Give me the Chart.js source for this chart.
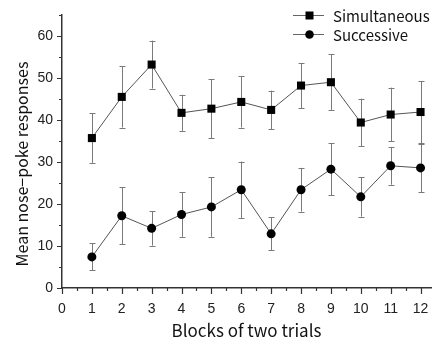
<!DOCTYPE html>
<html>
<head>
<meta charset="utf-8">
<script src="https://cdn.jsdelivr.net/npm/chart.js@4.4.0/dist/chart.umd.min.js"></script>
<style>
html,body{margin:0;padding:0;background:#fff;}
#wrap{width:432px;height:341px;position:relative;}
</style>
</head>
<body>
<div id="wrap"><canvas id="c" width="432" height="341"></canvas></div>
<script>
// ---- data ----
const blocks = [1, 2, 3, 4, 5, 6, 7, 8, 9, 10, 11, 12];
const simultaneous = [35.7, 45.5, 53.2, 41.7, 42.7, 44.3, 42.4, 48.2, 49.0, 39.4, 41.3, 41.9];
const simultaneousErr = [5.9, 7.3, 5.7, 4.3, 7.0, 6.1, 4.6, 5.4, 6.6, 5.7, 6.4, 7.4];
const successive = [7.4, 17.2, 14.2, 17.5, 19.3, 23.4, 12.9, 23.4, 28.3, 21.7, 29.1, 28.6];
const successiveErr = [3.2, 6.8, 4.1, 5.3, 7.1, 6.7, 3.9, 5.2, 6.2, 4.7, 4.5, 5.8];
const seriesNames = ['Simultaneous', 'Successive'];
const xTickValues = [0, 1, 2, 3, 4, 5, 6, 7, 8, 9, 10, 11, 12];
const yTickValues = [0, 10, 20, 30, 40, 50, 60];
const xTitle = 'Blocks of two trials';
const yTitle = 'Mean nose\u2212poke responses';

const TITLE_FONT = '"Noto Sans CJK JP", "Noto Sans", sans-serif';
const TICK_FONT = '"Liberation Sans", Arial, sans-serif';

function pts(xs, ys) { return xs.map((x, i) => ({x: x, y: ys[i]})); }

const decor = {
  id: 'decor',
  beforeDatasetsDraw(chart) {
    const ctx = chart.ctx, xs = chart.scales.x, ys = chart.scales.y;
    ctx.save();
    ctx.strokeStyle = '#7a7a7a';
    ctx.lineWidth = 1;
    [[simultaneous, simultaneousErr], [successive, successiveErr]].forEach(([vals, errs]) => {
      blocks.forEach((b, i) => {
        const px = Math.round(xs.getPixelForValue(b)) + 0.5;
        const top = ys.getPixelForValue(vals[i] + errs[i]);
        const bot = ys.getPixelForValue(vals[i] - errs[i]);
        ctx.beginPath();
        ctx.moveTo(px, top); ctx.lineTo(px, bot);
        ctx.moveTo(px - 3, Math.round(top) + 0.5); ctx.lineTo(px + 3, Math.round(top) + 0.5);
        ctx.moveTo(px - 3, Math.round(bot) + 0.5); ctx.lineTo(px + 3, Math.round(bot) + 0.5);
        ctx.stroke();
      });
    });
    ctx.restore();
  },
  afterDraw(chart) {
    const ctx = chart.ctx, xs = chart.scales.x, ys = chart.scales.y;
    const ca = chart.chartArea;
    ctx.save();
    // tick marks
    ctx.strokeStyle = '#333';
    ctx.lineWidth = 1.2;
    ctx.beginPath();
    for (let v = 0; v <= xs.max + 1e-9; v += 0.5) {
      const px = Math.round(xs.getPixelForValue(v)) + 0.5;
      const len = Number.isInteger(v) ? 6 : 3;
      ctx.moveTo(px, ca.bottom); ctx.lineTo(px, ca.bottom + len);
    }
    for (let v = 0; v <= ys.max + 1e-9; v += 5) {
      const py = Math.round(ys.getPixelForValue(v)) + 0.5;
      const len = (v % 10 === 0) ? 5 : 3;
      ctx.moveTo(ca.left, py); ctx.lineTo(ca.left - len, py);
    }
    ctx.stroke();
    // y title
    ctx.fillStyle = '#111';
    ctx.font = '16px ' + TITLE_FONT;
    ctx.textAlign = 'center';
    ctx.textBaseline = 'middle';
    ctx.translate(22, 164);
    ctx.rotate(-Math.PI / 2);
    ctx.fillText(yTitle, 0, 0);
    ctx.restore();
    // legend
    ctx.save();
    const items = [{name: seriesNames[0], style: 'rect', y: 15}, {name: seriesNames[1], style: 'circle', y: 34}];
    items.forEach(it => {
      ctx.strokeStyle = '#666';
      ctx.lineWidth = 1;
      ctx.beginPath();
      ctx.moveTo(293, it.y + 0.5); ctx.lineTo(324, it.y + 0.5);
      ctx.stroke();
      ctx.fillStyle = '#000';
      if (it.style === 'rect') {
        ctx.fillRect(305.5, it.y - 3.5, 8, 8);
      } else {
        ctx.beginPath(); ctx.arc(309.5, it.y + 0.5, 4.3, 0, Math.PI * 2); ctx.fill();
      }
      ctx.fillStyle = '#111';
      ctx.font = '15px ' + TITLE_FONT;
      ctx.textAlign = 'left';
      ctx.textBaseline = 'middle';
      ctx.fillText(it.name, 333, it.y + 1);
    });
    ctx.restore();
  }
};

new Chart(document.getElementById('c'), {
  type: 'scatter',
  data: {
    datasets: [
      {
        label: seriesNames[0],
        data: pts(blocks, simultaneous),
        showLine: true,
        borderColor: '#555',
        borderWidth: 1,
        pointStyle: 'rect',
        pointRadius: 5.7,
        pointBackgroundColor: '#000',
        pointBorderColor: '#000',
        pointBorderWidth: 0
      },
      {
        label: seriesNames[1],
        data: pts(blocks, successive),
        showLine: true,
        borderColor: '#555',
        borderWidth: 1,
        pointStyle: 'circle',
        pointRadius: 4.5,
        pointBackgroundColor: '#000',
        pointBorderColor: '#000',
        pointBorderWidth: 0
      }
    ]
  },
  options: {
    responsive: false,
    animation: false,
    events: [],
    layout: {autoPadding: false, padding: {top: 15, right: 1, left: 0, bottom: 0}},
    plugins: {legend: {display: false}, tooltip: {enabled: false}},
    scales: {
      x: {
        type: 'linear',
        min: 0,
        max: 12.35,
        afterFit(s) { s.height = 53; s.paddingRight = 0; s.paddingLeft = 0; },
        afterBuildTicks(s) { s.ticks = xTickValues.map(v => ({value: v})); },
        ticks: {stepSize: 1, padding: 13, color: '#222', font: {family: TICK_FONT, size: 14}, maxRotation: 0, autoSkip: false},
        grid: {display: false, drawTicks: false},
        border: {display: true, color: '#333', width: 1.5},
        title: {display: true, text: xTitle, color: '#111', font: {family: TITLE_FONT, size: 17}, padding: {top: 2, bottom: 0}}
      },
      y: {
        type: 'linear',
        min: 0,
        max: 65,
        afterFit(s) { s.width = 62; s.paddingTop = 0; s.paddingBottom = 0; },
        afterBuildTicks(s) { s.ticks = yTickValues.map(v => ({value: v})); },
        ticks: {stepSize: 10, padding: 9, color: '#222', font: {family: TICK_FONT, size: 14}},
        grid: {display: false, drawTicks: false},
        border: {display: true, color: '#333', width: 1.5}
      }
    }
  },
  plugins: [decor]
});
</script>
</body>
</html>
